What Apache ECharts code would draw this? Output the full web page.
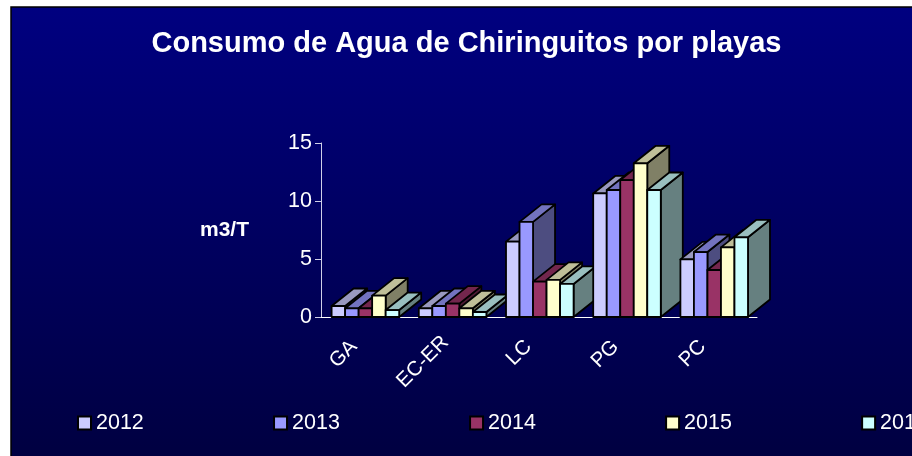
<!DOCTYPE html>
<html>
<head>
<meta charset="utf-8">
<style>
  html, body { margin: 0; padding: 0; background: #fff; overflow: hidden; }
  #chart { width: 912px; height: 456px; }
</style>
<script src="https://cdn.jsdelivr.net/npm/echarts@6/dist/echarts.min.js"></script>
</head>
<body>
<div id="chart"></div>
<script>
var playas = ["GA", "EC-ER", "LC", "PG", "PC"];
var years = ["2012", "2013", "2014", "2015", "2016"];
var colors = ["#CCCCFF", "#9999FF", "#993366", "#FFFFCC", "#CCFFFF"];
var yTicks = [0, 5, 10, 15];

var v2012 = [0.95, 0.75, 6.5, 10.65, 4.97];
var v2013 = [0.75, 0.95, 8.2, 10.95, 5.6];
var v2014 = [0.75, 1.15, 3.05, 11.8, 4.05];
var v2015 = [1.84, 0.75, 3.2, 13.25, 6.0];
var v2016 = [0.6, 0.43, 2.85, 10.95, 6.87];
var valores = [v2012, v2013, v2014, v2015, v2016];

var FONT = '"Liberation Sans", Arial, sans-serif';
var DEPTH_X = 22;
var DEPTH_Y = 17.5;

var myChart = echarts.init(document.getElementById("chart"));

// oscurece un color para las caras superior y lateral
function shade(color, k) {
  var c = echarts.color.parse(color);
  return "rgb(" + Math.round(c[0] * k) + "," + Math.round(c[1] * k) + "," + Math.round(c[2] * k) + ")";
}

// barra con caras frontal, superior y lateral
function makeBar(idx) {
  return function (params, api) {
    var cat = api.value(0);
    var base = api.coord([cat, 0]);
    var top = api.coord([cat, api.value(1)]);
    var w = (api.size([1, 0])[0] * 0.775) / years.length;
    var x0 = base[0] - (w * years.length) / 2 + idx * w + 0.8;
    var x1 = x0 + w;
    var y0 = base[1];
    var y1 = top[1];
    var z2 = cat * 10 + idx;
    var line = { stroke: "#000", lineWidth: 1.8, lineJoin: "round" };
    function face(points, fill, z) {
      return {
        type: "polygon",
        z2: z,
        shape: { points: points },
        style: Object.assign({ fill: fill }, line),
      };
    }
    return {
      type: "group",
      children: [
        face(
          [[x1, y0], [x1 + DEPTH_X, y0 - DEPTH_Y], [x1 + DEPTH_X, y1 - DEPTH_Y], [x1, y1]],
          shade(colors[idx], 0.5),
          z2
        ),
        face(
          [[x0, y1], [x1, y1], [x1 + DEPTH_X, y1 - DEPTH_Y], [x0 + DEPTH_X, y1 - DEPTH_Y]],
          shade(colors[idx], 0.75),
          z2
        ),
        face([[x0, y0], [x1, y0], [x1, y1], [x0, y1]], colors[idx], z2),
      ],
    };
  };
}

var option = {
  animation: false,
  graphic: [
    {
      type: "rect",
      z: -10,
      silent: true,
      shape: { x: 11, y: 7, width: 905, height: 455 },
      style: {
        stroke: "#000",
        lineWidth: 1.5,
        fill: new echarts.graphic.LinearGradient(0, 0, 0, 1, [
          { offset: 0, color: "#000080" },
          { offset: 1, color: "#000040" },
        ]),
      },
    },
    {
      type: "text",
      x: 200,
      y: 220,
      style: {
        text: "m3/T",
        fill: "#fff",
        font: "bold 21px " + FONT,
      },
    },
  ],
  title: {
    text: "Consumo de Agua de Chiringuitos por playas",
    left: 461.5,
    top: 24,
    textAlign: "center",
    textStyle: { color: "#fff", fontFamily: FONT, fontWeight: "bold", fontSize: 29 },
  },
  legend: {
    left: 72,
    top: 407,
    width: 1000,
    itemWidth: 13,
    itemHeight: 13,
    itemGap: 129.2,
    textStyle: { color: "#fff", fontFamily: FONT, fontSize: 21.5 },
    data: years.map(function (y, i) {
      return {
        name: y,
        icon: "rect",
        itemStyle: { color: colors[i], borderColor: "#000", borderWidth: 2 },
      };
    }),
  },
  grid: { left: 321, right: 155, top: 143, bottom: 139 },
  xAxis: {
    type: "category",
    // las etiquetas cortas van algo mas abajo que la larga
    data: playas.map(function (p) {
      return { value: p, textStyle: { padding: [0, p.length > 2 ? 9 : 15, 0, 0] } };
    }),
    axisTick: { length: 6, lineStyle: { color: "#fff" } },
    axisLine: { lineStyle: { color: "#fff", width: 1 } },
    axisLabel: { color: "#fff", fontFamily: FONT, fontSize: 20.5, rotate: 45, margin: 16, interval: 0 },
  },
  yAxis: {
    type: "value",
    min: yTicks[0],
    max: yTicks[yTicks.length - 1],
    interval: 5,
    splitLine: { show: false },
    axisLine: { show: true, lineStyle: { color: "#D0D0E8", width: 1 } },
    axisTick: { show: true, length: 6, lineStyle: { color: "#D0D0E8" } },
    axisLabel: { color: "#fff", fontFamily: FONT, fontSize: 21.5, margin: 9 },
  },
  series: years.map(function (y, i) {
    return {
      name: y,
      type: "custom",
      coordinateSystem: "cartesian2d",
      clip: false,
      renderItem: makeBar(i),
      encode: { x: 0, y: 1 },
      itemStyle: { color: colors[i] },
      data: valores[i].map(function (v, c) {
        return [c, v];
      }),
    };
  }),
};

option && myChart.setOption(option);
</script>
</body>
</html>
